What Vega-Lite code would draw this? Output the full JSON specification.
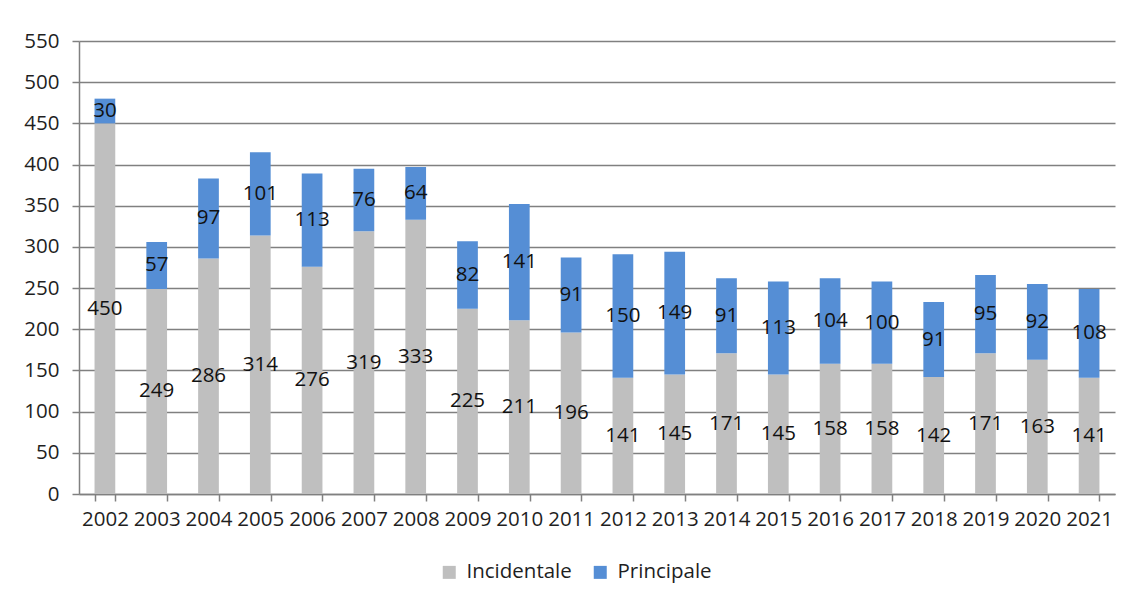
{
  "$schema": "https://vega.github.io/schema/vega-lite/v6.json",
  "autosize": "none",
  "width": 1036,
  "height": 453,
  "padding": {"left": 79, "top": 41, "right": 15, "bottom": 107},
  "background": "white",
  "data": {"values": [
    {"anno": "2002", "tipo": "Incidentale", "n": 450}, {"anno": "2002", "tipo": "Principale", "n": 30},
    {"anno": "2003", "tipo": "Incidentale", "n": 249}, {"anno": "2003", "tipo": "Principale", "n": 57},
    {"anno": "2004", "tipo": "Incidentale", "n": 286}, {"anno": "2004", "tipo": "Principale", "n": 97},
    {"anno": "2005", "tipo": "Incidentale", "n": 314}, {"anno": "2005", "tipo": "Principale", "n": 101},
    {"anno": "2006", "tipo": "Incidentale", "n": 276}, {"anno": "2006", "tipo": "Principale", "n": 113},
    {"anno": "2007", "tipo": "Incidentale", "n": 319}, {"anno": "2007", "tipo": "Principale", "n": 76},
    {"anno": "2008", "tipo": "Incidentale", "n": 333}, {"anno": "2008", "tipo": "Principale", "n": 64},
    {"anno": "2009", "tipo": "Incidentale", "n": 225}, {"anno": "2009", "tipo": "Principale", "n": 82},
    {"anno": "2010", "tipo": "Incidentale", "n": 211}, {"anno": "2010", "tipo": "Principale", "n": 141},
    {"anno": "2011", "tipo": "Incidentale", "n": 196}, {"anno": "2011", "tipo": "Principale", "n": 91},
    {"anno": "2012", "tipo": "Incidentale", "n": 141}, {"anno": "2012", "tipo": "Principale", "n": 150},
    {"anno": "2013", "tipo": "Incidentale", "n": 145}, {"anno": "2013", "tipo": "Principale", "n": 149},
    {"anno": "2014", "tipo": "Incidentale", "n": 171}, {"anno": "2014", "tipo": "Principale", "n": 91},
    {"anno": "2015", "tipo": "Incidentale", "n": 145}, {"anno": "2015", "tipo": "Principale", "n": 113},
    {"anno": "2016", "tipo": "Incidentale", "n": 158}, {"anno": "2016", "tipo": "Principale", "n": 104},
    {"anno": "2017", "tipo": "Incidentale", "n": 158}, {"anno": "2017", "tipo": "Principale", "n": 100},
    {"anno": "2018", "tipo": "Incidentale", "n": 142}, {"anno": "2018", "tipo": "Principale", "n": 91},
    {"anno": "2019", "tipo": "Incidentale", "n": 171}, {"anno": "2019", "tipo": "Principale", "n": 95},
    {"anno": "2020", "tipo": "Incidentale", "n": 163}, {"anno": "2020", "tipo": "Principale", "n": 92},
    {"anno": "2021", "tipo": "Incidentale", "n": 141}, {"anno": "2021", "tipo": "Principale", "n": 108}
  ]},
  "encoding": {
    "x": {
      "field": "anno", "type": "nominal", "title": null,
      "scale": {"paddingInner": 0.6, "paddingOuter": 0.3},
      "axis": {
        "labelAngle": 0, "labelFont": "Open Sans", "labelFontSize": 20.5, "labelColor": "#1f1f1f",
        "labelPadding": 8, "tickBand": "extent", "tickSize": 7, "tickColor": "#808080", "tickWidth": 1.5,
        "domainColor": "#808080", "domainWidth": 1.5, "grid": false
      }
    },
    "y": {
      "field": "n", "type": "quantitative", "title": null, "stack": "zero",
      "scale": {"domain": [0, 550], "nice": false},
      "axis": {
        "values": [0, 50, 100, 150, 200, 250, 300, 350, 400, 450, 500, 550],
        "labelFont": "Open Sans", "labelFontSize": 20.5, "labelColor": "#1f1f1f", "labelPadding": 13,
        "tickSize": 7, "tickColor": "#808080", "tickWidth": 1.5,
        "domain": true, "domainColor": "#808080", "domainWidth": 1.5,
        "grid": true, "gridColor": "#808080", "gridWidth": 1.5
      }
    },
    "order": {"field": "tipo", "sort": "ascending"}
  },
  "layer": [
    {
      "mark": {"type": "bar"},
      "encoding": {
        "color": {
          "field": "tipo", "type": "nominal",
          "scale": {"domain": ["Incidentale", "Principale"], "range": ["#bfbfbf", "#558ed5"]},
          "legend": {
            "title": null, "orient": "none", "direction": "horizontal",
            "legendX": 360, "legendY": 521,
            "symbolType": "square", "symbolSize": 169, "symbolStrokeWidth": 0,
            "labelFont": "Open Sans", "labelFontSize": 20.5, "labelColor": "#1f1f1f",
            "labelOffset": 7, "columnPadding": 18
          }
        }
      }
    },
    {
      "mark": {"type": "text", "font": "Open Sans", "fontSize": 20.5, "color": "#111111", "baseline": "middle"},
      "encoding": {
        "y": {"field": "n", "type": "quantitative", "stack": "zero", "bandPosition": 0.5},
        "text": {"field": "n", "type": "quantitative"}
      }
    }
  ],
  "config": {"view": {"stroke": null}}
}
